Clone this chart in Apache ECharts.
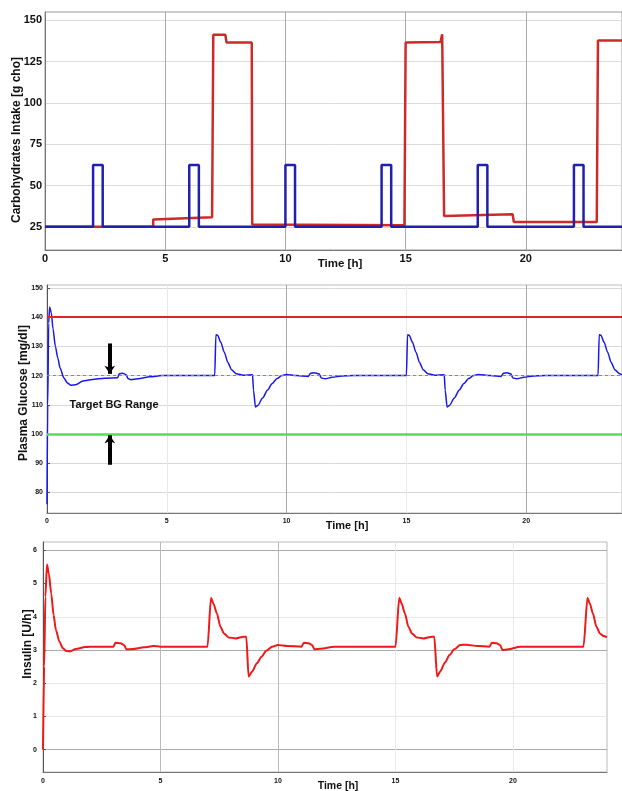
<!DOCTYPE html>
<html>
<head>
<meta charset="utf-8">
<script src="https://cdn.jsdelivr.net/npm/echarts@6/dist/echarts.min.js"></script>
<style>
  html, body { margin: 0; padding: 0; background: #fff; }
  #main { width: 622px; height: 791px; }
</style>
</head>
<body>
<div id="main"></div>
<script type="text/javascript">
// ---- data ----
var timeTicks = [0, 5, 10, 15, 20];
var carbTicks = [25, 50, 75, 100, 125, 150];
var glucoseTicks = [80, 90, 100, 110, 120, 130, 140, 150];
var insulinTicks = [0, 1, 2, 3, 4, 5, 6];

// meals (red) and snacks (blue), carbohydrates [g cho]
var mealT = [0, 4.5, 4.5, 6.95, 7.0, 7.5, 7.55, 8.6, 8.62, 14.95, 15.0, 16.45, 16.52, 16.6, 19.45, 19.5, 22.95, 23.0, 24];
var mealV = [25, 25, 29.5, 30.8, 141.3, 141.3, 136.5, 136.5, 26.5, 25.9, 136.5, 136.8, 141.5, 31.6, 32.6, 28, 28, 137.7, 137.7];
var snackT = [0, 2, 2, 2.4, 2.4, 6, 6, 6.4, 6.4, 10, 10, 10.4, 10.4, 14, 14, 14.4, 14.4, 18, 18, 18.4, 18.4, 22, 22, 22.4, 22.4, 24];
var snackV = [25, 25, 62.5, 62.5, 25, 25, 62.5, 62.5, 25, 25, 62.5, 62.5, 25, 25, 62.5, 62.5, 25, 25, 62.5, 62.5, 25, 25, 62.5, 62.5, 25, 25];

// plasma glucose [mg/dl]
var glucoseT = [0, 0.03, 0.07, 0.11, 0.18, 0.25, 0.35, 0.45, 0.55, 0.7, 0.85, 1.0, 1.2, 1.5, 1.9, 2.4, 2.95,
  3.02, 3.15, 3.3, 3.38, 3.5, 3.8, 4.3, 4.8, 7.0, 7.05, 7.12, 7.25, 7.4, 7.55, 7.7, 7.9, 8.2, 8.58,
  8.62, 8.7, 8.8, 9.0, 9.2, 9.4, 9.6, 9.8, 10.0, 10.4, 10.9, 11.0, 11.15, 11.35, 11.45, 11.6, 11.9, 12.3, 12.8,
  15.0, 15.05, 15.12, 15.25, 15.4, 15.55, 15.7, 15.9, 16.2, 16.58, 16.62, 16.7, 16.8, 17.0, 17.2, 17.4, 17.6, 17.8,
  18.0, 18.5, 18.95, 19.05, 19.2, 19.35, 19.45, 19.6, 19.9, 20.3, 20.8, 23.0, 23.05, 23.12, 23.25, 23.4, 23.55,
  23.7, 23.9, 24.0];
var glucoseV = [76, 110, 138, 143.5, 141.5, 136, 130, 126, 122.5, 119.3, 117.5, 116.7, 116.9, 118.2, 118.7, 119.1, 119.3,
  120.6, 120.8, 120.4, 119, 118.6, 118.9, 119.6, 120, 120, 134, 133.8, 131.5, 128, 124.5, 122, 120.6, 120.1, 120.3,
  115, 109.3, 109.8, 112.3, 115, 117.3, 119, 120, 120.4, 120, 119.7, 120.8, 121, 120.6, 119.2, 118.9, 119.4, 119.9, 120,
  120, 134, 133.8, 131.5, 128, 124.5, 122, 120.6, 120.1, 120.3, 115, 109.3, 109.8, 112.3, 115, 117.3, 119, 120,
  120.4, 120, 119.7, 120.8, 121, 120.6, 119.2, 118.9, 119.4, 119.9, 120, 120, 134, 133.8, 131.5, 128, 124.5,
  122, 120.6, 120.3];
var bgUpper = 140;
var bgLower = 100;
var bgTarget = 120;

// insulin [U/h]
var insulinT = [0, 0.05, 0.1, 0.17, 0.25, 0.35, 0.45, 0.55, 0.7, 0.85, 1.0, 1.15, 1.4, 1.8, 2.2, 3.0, 3.08, 3.3, 3.45, 3.55,
  3.8, 4.3, 4.7, 5.0, 7.0, 7.15, 7.25, 7.4, 7.55, 7.7, 7.9, 8.2, 8.55, 8.65, 8.75, 8.9, 9.1, 9.3, 9.5, 9.75, 10.0, 10.4,
  11.0, 11.1, 11.3, 11.45, 11.55, 11.8, 12.4, 15.0, 15.16, 15.26, 15.4, 15.55, 15.7, 15.9, 16.2, 16.55, 16.65, 16.77,
  16.9, 17.1, 17.3, 17.5, 17.75, 18.0, 18.5, 19.0, 19.1, 19.3, 19.45, 19.55, 19.8, 20.3, 23.0, 23.17, 23.27, 23.4,
  23.55, 23.7, 23.85, 24.0];
var insulinV = [0, 2.5, 4.6, 5.57, 5.3, 4.7, 4.05, 3.6, 3.25, 3.05, 2.97, 2.96, 3.03, 3.09, 3.1, 3.1, 3.22, 3.2, 3.15, 3.02,
  3.03, 3.08, 3.12, 3.1, 3.1, 4.57, 4.4, 4.1, 3.7, 3.5, 3.38, 3.35, 3.4, 3.4, 2.2, 2.35, 2.6, 2.8, 2.98, 3.1, 3.15, 3.12,
  3.1, 3.22, 3.2, 3.15, 3.02, 3.04, 3.1, 3.1, 4.57, 4.4, 4.1, 3.7, 3.5, 3.38, 3.35, 3.4, 3.4, 2.2,
  2.35, 2.62, 2.85, 3.02, 3.15, 3.16, 3.12, 3.1, 3.22, 3.2, 3.15, 3.0, 3.02, 3.1, 3.1, 4.57, 4.4, 4.1,
  3.7, 3.5, 3.42, 3.38];

function pairs(t, v) {
  var out = [];
  for (var i = 0; i < t.length; i++) out.push([t[i], v[i]]);
  return out;
}

var FONT = 'Liberation Sans';

function timeAxis(gridIndex, labelSize, margin, nameSize, nameGap, shift, splitColors) {
  return {
    type: 'value', gridIndex: gridIndex, min: 0, max: 24,
    name: 'Time [h]', nameLocation: 'middle', nameGap: nameGap, nameMoveOverlap: false,
    nameTextStyle: { fontFamily: FONT, fontWeight: 'bold', fontSize: nameSize, color: '#111', padding: [0, 0, 0, shift] },
    axisLine: { onZero: false, lineStyle: { color: '#777', width: 1 } },
    axisTick: { show: false, customValues: timeTicks },
    axisLabel: { customValues: timeTicks, margin: margin, fontFamily: FONT, fontWeight: 'bold', fontSize: labelSize, color: '#111' },
    splitLine: { show: true, lineStyle: { color: splitColors, width: 1 } }
  };
}

var myChart = echarts.init(document.getElementById('main'));
var option = {
  animation: false,
  backgroundColor: '#fff',
  grid: [
    { left: 45, top: 12, width: 577, height: 238, show: true, borderColor: '#999', borderWidth: 1, outerBoundsMode: 'none' },
    { left: 47, top: 285, width: 575, height: 228, show: true, borderColor: '#bbb', borderWidth: 1, outerBoundsMode: 'none' },
    { left: 43, top: 542, width: 564, height: 230, show: true, borderColor: '#bbb', borderWidth: 1, outerBoundsMode: 'none' }
  ],
  xAxis: [
    timeAxis(0, 11, 3, 11.5, 8, 13, ['#aaa', '#aaa', '#aaa', '#aaa', '#aaa']),
    timeAxis(1, 7, 5, 11, 7, 25, ['#e4e4e4', '#e8e8e8', '#a8a8a8', '#e8e8e8', '#a8a8a8']),
    timeAxis(2, 7, 6, 10.5, 9, 26, ['#bbb', '#bbb', '#bbb', '#e8e8e8', '#e8e8e8'])
  ],
  yAxis: [
    {
      type: 'value', gridIndex: 0, min: 11, max: 155,
      name: 'Carbohydrates Intake [g cho]', nameLocation: 'middle', nameGap: 22, nameMoveOverlap: false,
      nameTextStyle: { fontFamily: FONT, fontWeight: 'bold', fontSize: 12, color: '#111', padding: [0, 18, 0, 0] },
      axisLine: { show: true, lineStyle: { color: '#777' } },
      axisTick: { show: false, customValues: carbTicks },
      axisLabel: { customValues: carbTicks, margin: 3, fontFamily: FONT, fontWeight: 'bold', fontSize: 11, color: '#111' },
      splitLine: { show: true, lineStyle: { color: '#dcdcdc' } }
    },
    {
      type: 'value', gridIndex: 1, min: 73, max: 151,
      name: 'Plasma Glucose [mg/dl]', nameLocation: 'middle', nameGap: 17, nameMoveOverlap: false,
      nameTextStyle: { fontFamily: FONT, fontWeight: 'bold', fontSize: 12, color: '#111', padding: [0, 0, 0, 12] },
      axisLine: { show: true, lineStyle: { color: '#555' } },
      axisTick: { show: true, length: 3, inside: true, customValues: glucoseTicks, lineStyle: { color: '#555' } },
      axisLabel: { customValues: glucoseTicks, margin: 4, fontFamily: FONT, fontWeight: 'bold', fontSize: 7, color: '#111' },
      splitLine: { show: true, lineStyle: { color: '#d8d8d8' } }
    },
    {
      type: 'value', gridIndex: 2, min: -0.67, max: 6.25,
      name: 'Insulin [U/h]', nameLocation: 'middle', nameGap: 9, nameMoveOverlap: false,
      nameTextStyle: { fontFamily: FONT, fontWeight: 'bold', fontSize: 12, color: '#111', padding: [0, 0, 0, 26] },
      axisLine: { show: true, lineStyle: { color: '#555' } },
      axisTick: { show: true, length: 3, inside: true, customValues: insulinTicks, lineStyle: { color: '#555' } },
      axisLabel: { customValues: insulinTicks, margin: 6, fontFamily: FONT, fontWeight: 'bold', fontSize: 7, color: '#111' },
      splitLine: { show: true, lineStyle: { color: ['#aaa', '#e8e8e8', '#e8e8e8', '#aaa', '#e8e8e8', '#e8e8e8', '#aaa'] } }
    }
  ],
  series: [
    {
      name: 'meal', type: 'line', xAxisIndex: 0, yAxisIndex: 0,
      data: pairs(mealT, mealV), showSymbol: false,
      lineStyle: { color: '#cf2a2a', width: 2.5 }, itemStyle: { color: '#cf2a2a' }
    },
    {
      name: 'snack', type: 'line', xAxisIndex: 0, yAxisIndex: 0,
      data: pairs(snackT, snackV), showSymbol: false,
      lineStyle: { color: '#2020ad', width: 2.5 }, itemStyle: { color: '#2020ad' }
    },
    {
      name: 'glucose', type: 'line', xAxisIndex: 1, yAxisIndex: 1,
      data: pairs(glucoseT, glucoseV), showSymbol: false, smooth: 0.25, smoothMonotone: 'x',
      lineStyle: { color: '#1818e8', width: 1.5 }, itemStyle: { color: '#1818e8' },
      markLine: {
        silent: true, symbol: ['none', 'none'], label: { show: false },
        data: [
          { yAxis: bgUpper, lineStyle: { color: '#e52222', width: 2, type: 'solid' } },
          { yAxis: bgLower, lineStyle: { color: '#50e050', width: 2.5, type: 'solid' } },
          { yAxis: bgTarget, lineStyle: { color: '#888', width: 1, type: [3, 3] } },
          [
            { coord: [2.62, 131], symbol: 'none', lineStyle: { color: '#000', width: 4, type: 'solid' } },
            { coord: [2.62, 120.6], symbol: 'arrow', symbolSize: [8, 8] }
          ],
          [
            { coord: [2.62, 89.5], symbol: 'none', lineStyle: { color: '#000', width: 4, type: 'solid' } },
            { coord: [2.62, 99.6], symbol: 'arrow', symbolSize: [8, 8] }
          ]
        ]
      },
      markPoint: {
        silent: true, symbol: 'circle', symbolSize: 0,
        data: [{
          coord: [2.8, 110],
          label: { show: true, position: 'inside', formatter: 'Target BG Range', fontFamily: FONT, fontWeight: 'bold', fontSize: 11, color: '#111' }
        }]
      }
    },
    {
      name: 'insulin', type: 'line', xAxisIndex: 2, yAxisIndex: 2,
      data: pairs(insulinT, insulinV), showSymbol: false, smooth: 0.25, smoothMonotone: 'x',
      lineStyle: { color: '#f01818', width: 2 }, itemStyle: { color: '#f01818' }
    }
  ]
};
myChart.setOption(option);
</script>
</body>
</html>
